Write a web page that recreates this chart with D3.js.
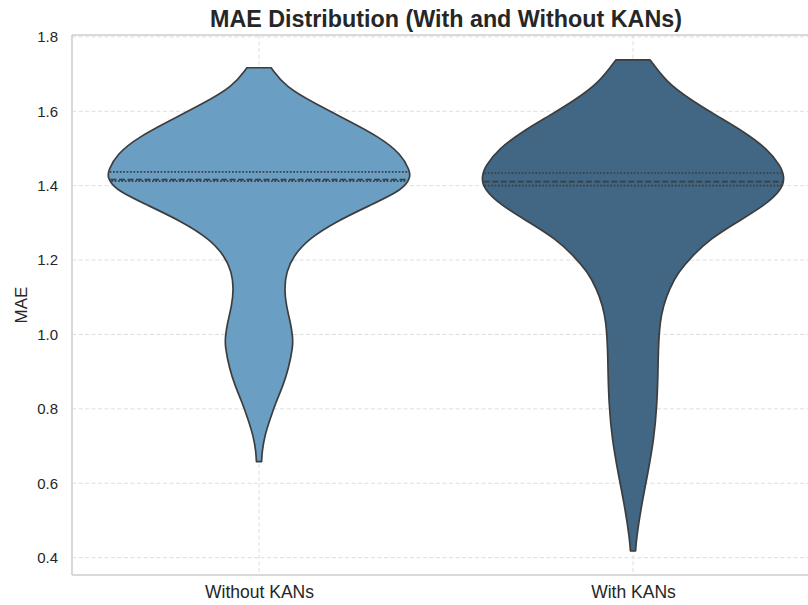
<!DOCTYPE html>
<html>
<head>
<meta charset="utf-8">
<script src="https://cdn.jsdelivr.net/npm/d3@7"></script>
<style>
  html, body { margin: 0; padding: 0; background: #ffffff; }
  svg { display: block; font-family: "Liberation Sans", Arial, sans-serif; }
</style>
</head>
<body>
<svg id="chart" width="808" height="605"></svg>
<script>
// Groups shown along the x axis
const categories = ["Without KANs", "With KANs"];
const fillColors = ["#6a9ec2", "#416784"];

// Density profile of each group: MAE level and relative density (peak = 1)
const levelsWithout = [1.717, 1.666, 1.620, 1.574, 1.531, 1.485, 1.440, 1.424, 1.391, 1.346, 1.303, 1.257, 1.211, 1.168, 1.123, 1.077, 1.034, 0.996, 0.969, 0.908, 0.862, 0.819, 0.773, 0.727, 0.684, 0.658];
const densityWithout = [0.08, 0.173, 0.373, 0.593, 0.793, 0.94, 0.995, 1.0, 0.96, 0.727, 0.507, 0.327, 0.227, 0.18, 0.167, 0.18, 0.207, 0.222, 0.225, 0.195, 0.158, 0.113, 0.073, 0.037, 0.02, 0.017];

const levelsWith = [1.738, 1.679, 1.633, 1.588, 1.545, 1.499, 1.453, 1.424, 1.391, 1.346, 1.303, 1.257, 1.211, 1.168, 1.123, 1.077, 1.034, 0.961, 0.899, 0.808, 0.719, 0.631, 0.539, 0.450, 0.418];
const densityWith = [0.113, 0.22, 0.373, 0.553, 0.733, 0.887, 0.975, 1.0, 0.987, 0.867, 0.69, 0.51, 0.39, 0.3, 0.24, 0.2, 0.178, 0.167, 0.165, 0.158, 0.138, 0.1, 0.055, 0.022, 0.017];

// Quartiles of each group: [Q1, median, Q3]
const quartilesWithout = [1.412, 1.416, 1.437];
const quartilesWith = [1.400, 1.411, 1.434];

// Y axis ticks
const yTicks = [0.4, 0.6, 0.8, 1.0, 1.2, 1.4, 1.6, 1.8];

const groups = [
  { name: categories[0], levels: levelsWithout, density: densityWithout, quartiles: quartilesWithout, color: fillColors[0] },
  { name: categories[1], levels: levelsWith, density: densityWith, quartiles: quartilesWith, color: fillColors[1] }
];

const svg = d3.select("#chart");
const margin = { left: 72, top: 35, right: 820, bottom: 575 };

const x = d3.scalePoint()
  .domain(categories)
  .range([margin.left, margin.right])
  .padding(0.5);
const band = x.step();

const y = d3.scaleLinear()
  .domain([0.3535, 1.805])
  .range([margin.bottom, margin.top]);

// Half-width of a violin at relative density 1
const w = d3.scaleLinear().domain([0, 1]).range([0, band * 0.405]);

const gridColor = "#dedede";

// Grid
const grid = svg.append("g");
grid.selectAll("line.h")
  .data(yTicks)
  .join("line")
  .attr("x1", margin.left).attr("x2", margin.right)
  .attr("y1", d => y(d)).attr("y2", d => y(d))
  .attr("stroke", gridColor).attr("stroke-width", 1)
  .attr("stroke-dasharray", "4,2.5");
grid.selectAll("line.v")
  .data(categories)
  .join("line")
  .attr("x1", d => x(d)).attr("x2", d => x(d))
  .attr("y1", margin.top).attr("y2", margin.bottom)
  .attr("stroke", gridColor).attr("stroke-width", 1)
  .attr("stroke-dasharray", "4,2.5");

// Violins
const violins = svg.append("g");
groups.forEach(g => {
  const cx = x(g.name);
  const pts = g.levels.map((v, i) => [v, g.density[i]]);
  const area = d3.area()
    .curve(d3.curveBasis)
    .y(d => y(d[0]))
    .x0(d => cx - w(d[1]))
    .x1(d => cx + w(d[1]));

  violins.append("path")
    .attr("d", area(pts))
    .attr("fill", g.color)
    .attr("stroke", "#3d3d3d")
    .attr("stroke-width", 1.7)
    .attr("stroke-linejoin", "round");

  // Density at any level, for the quartile line widths
  const sorted = pts.slice().sort((a, b) => a[0] - b[0]);
  const dens = d3.scaleLinear()
    .domain(sorted.map(d => d[0]))
    .range(sorted.map(d => d[1]));

  g.quartiles.forEach((q, i) => {
    const hw = w(dens(q)) * 0.99;
    violins.append("line")
      .attr("x1", cx - hw).attr("x2", cx + hw)
      .attr("y1", y(q)).attr("y2", y(q))
      .attr("stroke", "#3d3d3d")
      .attr("stroke-width", 1.7)
      .attr("stroke-dasharray", i === 1 ? "6,2.5" : "1.7,1.7");
  });
});

// Spines
const spineColor = "#cccccc";
[[margin.left, margin.top, margin.left, margin.bottom],
 [margin.left, margin.bottom, margin.right, margin.bottom],
 [margin.left, margin.top, margin.right, margin.top],
 [margin.right, margin.top, margin.right, margin.bottom]].forEach(s => {
  svg.append("line")
    .attr("x1", s[0]).attr("y1", s[1]).attr("x2", s[2]).attr("y2", s[3])
    .attr("stroke", spineColor).attr("stroke-width", 1.5);
});

// Axes
const yAxis = d3.axisLeft(y).tickValues(yTicks).tickFormat(d3.format(".1f")).tickSize(0).tickPadding(14);
const yg = svg.append("g").attr("transform", `translate(${margin.left},0)`).call(yAxis);
yg.select(".domain").remove();
yg.selectAll("text").attr("fill", "#262626").attr("font-size", 15).attr("font-family", "Liberation Sans, Arial, sans-serif");

const xAxis = d3.axisBottom(x).tickSize(0).tickPadding(11);
const xg = svg.append("g").attr("transform", `translate(0,${margin.bottom})`).call(xAxis);
xg.select(".domain").remove();
xg.selectAll("text").attr("fill", "#262626").attr("font-size", 17.5).attr("font-family", "Liberation Sans, Arial, sans-serif");

// Axis label
svg.append("text")
  .attr("transform", `translate(27,${(margin.top + margin.bottom) / 2}) rotate(-90)`)
  .attr("text-anchor", "middle")
  .attr("fill", "#262626")
  .attr("font-size", 17)
  .text("MAE");

// Title
svg.append("text")
  .attr("x", (margin.left + margin.right) / 2)
  .attr("y", 27)
  .attr("text-anchor", "middle")
  .attr("fill", "#262626")
  .attr("font-size", 23.3)
  .attr("font-weight", "bold")
  .text("MAE Distribution (With and Without KANs)");
</script>
</body>
</html>
